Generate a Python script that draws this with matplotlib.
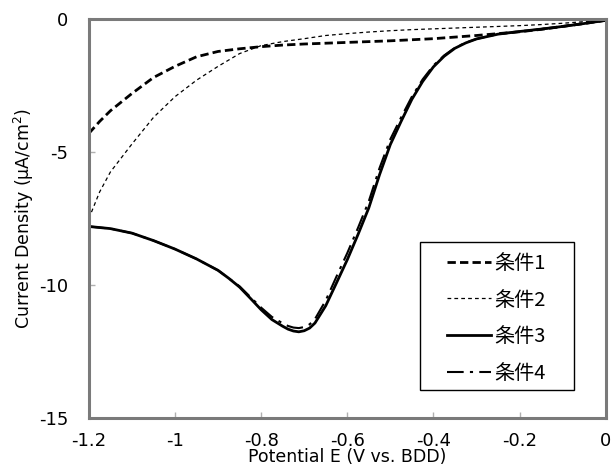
import numpy as np
import matplotlib.pyplot as plt
from matplotlib.patches import Rectangle

# potential (V vs. BDD) and current density (uA/cm2)
E_a = [-1.2, -1.175, -1.15, -1.1, -1.05, -1.0, -0.95, -0.9, -0.85, -0.8, -0.75, -0.7,
       -0.65, -0.6, -0.55, -0.5, -0.45, -0.4, -0.35, -0.3, -0.25, -0.2, -0.15,
       -0.1, -0.05, 0.0]
j1 = [-4.3, -3.85, -3.45, -2.8, -2.2, -1.78, -1.42, -1.22, -1.12, -1.04, -0.98, -0.94,
      -0.91, -0.88, -0.85, -0.82, -0.78, -0.74, -0.68, -0.62, -0.55, -0.48, -0.39,
      -0.28, -0.17, -0.05]
j2 = [-7.5, -6.5, -5.75, -4.7, -3.7, -2.92, -2.3, -1.78, -1.3, -1.0, -0.85, -0.74,
      -0.62, -0.55, -0.49, -0.44, -0.40, -0.37, -0.34, -0.31, -0.28, -0.25, -0.21,
      -0.16, -0.10, -0.04]

E_b = [-1.2, -1.15, -1.1, -1.05, -1.0, -0.95, -0.9, -0.875, -0.85, -0.825, -0.8,
       -0.775, -0.75, -0.7375, -0.725, -0.7125, -0.7, -0.6875, -0.675, -0.65,
       -0.625, -0.6, -0.575, -0.55, -0.525, -0.5, -0.475, -0.45, -0.425, -0.4,
       -0.375, -0.35, -0.325, -0.3, -0.25, -0.2, -0.15, -0.1, -0.05, 0.0]
j3 = [-7.8, -7.88, -8.05, -8.33, -8.65, -9.02, -9.45, -9.75, -10.08, -10.5, -10.93,
      -11.3, -11.55, -11.66, -11.73, -11.76, -11.72, -11.62, -11.43, -10.78,
      -9.92, -9.05, -8.1, -7.1, -5.85, -4.72, -3.85, -3.02, -2.35, -1.8,
      -1.4, -1.1, -0.9, -0.75, -0.57, -0.47, -0.38, -0.28, -0.17, -0.05]
j4 = [-7.8, -7.88, -8.05, -8.33, -8.65, -9.02, -9.45, -9.75, -10.05, -10.45, -10.85,
      -11.2, -11.44, -11.54, -11.6, -11.62, -11.58, -11.48, -11.28, -10.58,
      -9.68, -8.8, -7.85, -6.85, -5.6, -4.52, -3.7, -2.92, -2.27, -1.75,
      -1.37, -1.08, -0.89, -0.75, -0.57, -0.47, -0.38, -0.28, -0.17, -0.05]

labels = ['条件1', '条件2', '条件3', '条件4']
xticks = [-1.2, -1.0, -0.8, -0.6, -0.4, -0.2, 0.0]
xticklabels = ['-1.2', '-1', '-0.8', '-0.6', '-0.4', '-0.2', '0']
yticks = [0, -5, -10, -15]
yticklabels = ['0', '-5', '-10', '-15']

fig = plt.figure(figsize=(6.13, 4.75), dpi=100)
ax = fig.add_axes([0.145, 0.12, 0.843, 0.84])

ax.plot(E_a, j1, color='black', lw=2.0, linestyle=(0, (3, 1.5)), label=labels[0])
ax.plot(E_a, j2, color='black', lw=0.9, linestyle=(0, (3, 2.5)), label=labels[1])
ax.plot(E_b, j3, color='black', lw=2.0, linestyle='-', label=labels[2])
ax.plot(E_b, j4, color='black', lw=1.5, linestyle=(0, (8, 3, 1.5, 3)), label=labels[3])

ax.set_xlim(-1.2, 0)
ax.set_ylim(-15, 0)
ax.set_xticks(xticks)
ax.set_xticklabels(xticklabels)
ax.set_yticks(yticks)
ax.set_yticklabels(yticklabels)
ax.tick_params(direction='in', length=4, width=1, color='#b0b0b0', labelsize=13)
ax.tick_params(axis='x', pad=10)
ax.tick_params(axis='y', pad=15)

for s in ax.spines.values():
    s.set_color('#7a7a7a')
    s.set_linewidth(2.2)

ax.set_xlabel('Potential E (V vs. BDD)', fontsize=12.5, labelpad=-1)
ax.set_ylabel('Current Density (μA/cm$^2$)', fontsize=12.5, labelpad=2)

# legend box drawn separately so the inner padding can be wider than tall
ax.add_patch(Rectangle((0.640, 0.070), 0.298, 0.371, transform=ax.transAxes,
                       facecolor='white', edgecolor='black', lw=1.0, zorder=4))
leg = ax.legend(loc='upper left', bbox_to_anchor=(0.6925, 0.414),
                prop={'family': ['Noto Sans CJK JP', 'DejaVu Sans'], 'size': 14.5},
                handlelength=2.2, handletextpad=0.15, labelspacing=0.78,
                borderpad=0, borderaxespad=0, frameon=False)
leg.set_zorder(5)

fig.savefig('out.png', dpi=100)
